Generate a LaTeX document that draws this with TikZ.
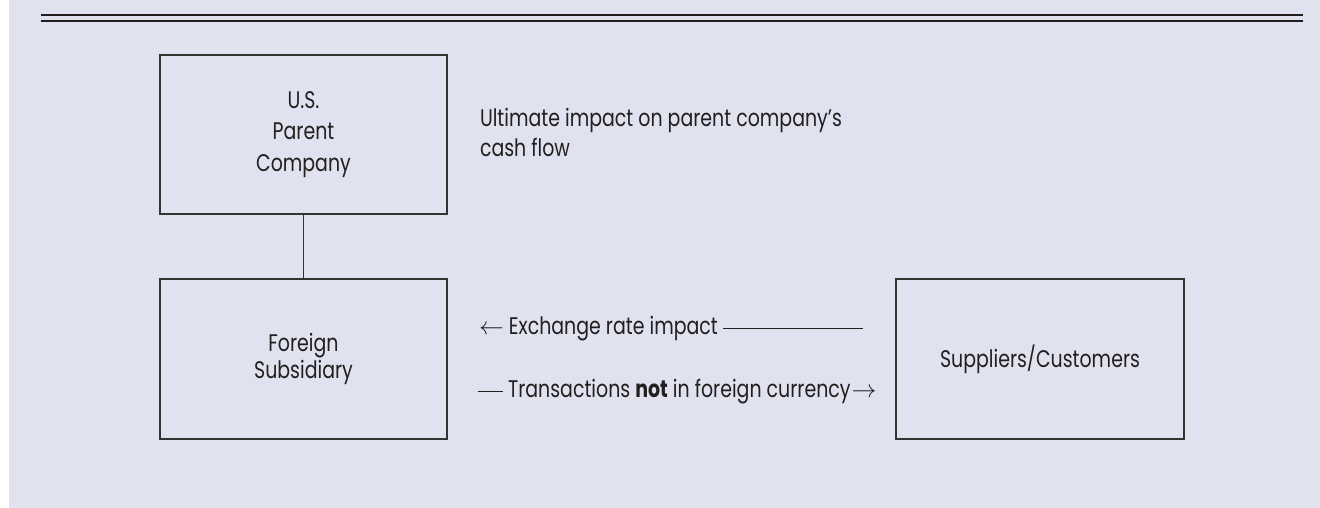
\documentclass[tikz,border=0pt]{standalone}
\usepackage{fontspec}
\setmainfont{Poppins}[FakeStretch=0.79]
\definecolor{panel}{HTML}{E0E2EF}
\definecolor{ink}{HTML}{231F20}
\definecolor{edge}{HTML}{333333}
\newcommand{\dashrule}[1]{\rule[5.5pt]{#1}{1pt}}
\begin{document}
\begin{tikzpicture}[x=1pt,y=-1pt,
  every node/.style={font=\fontsize{24}{30}\selectfont, text=ink, inner sep=0pt, outer sep=0pt},
  entity/.style={draw=edge, line width=1.3pt, align=center},
  link/.style={draw=edge, line width=1.3pt},
  headrule/.style={draw=ink, line width=2pt}]
  % page and shaded panel
  \useasboundingbox (0,0) rectangle (1320,508);
  \fill[white] (0,0) rectangle (1320,508);
  \fill[panel] (9,0) rectangle (1320,508);
  % double rule under the heading
  \draw[headrule] (41,15) -- (1303,15);
  \draw[headrule] (41,21) -- (1303,21);

  % entities
  \node[entity, minimum width=287pt, minimum height=159pt,
        font=\fontsize{24}{31.6}\selectfont] (parent) at (303.5,134.5)
        {U.S.\\Parent\\Company};
  \node[entity, minimum width=287pt, minimum height=160pt,
        font=\fontsize{24}{26.7}\selectfont] (foreign) at (303.5,359)
        {Foreign\\Subsidiary};
  \node[entity, minimum width=288pt, minimum height=160pt] (partners) at (1040,359)
        {Suppliers/Customers};

  % ownership link
  \draw[link] (parent.south) -- (foreign.north);

  % annotations
  \node[anchor=base west] (impact1) at (480,126.7) {Ultimate impact on parent company’s};
  \node[anchor=base west] (impact2) at (480,157) {cash flow};
  \node[anchor=base west] (exch) at (479,334)
        {$\leftarrow$ Exchange rate impact \dashrule{140pt}};
  \node[anchor=base west] (trans) at (478,397)
        {\dashrule{25pt} Transactions \textbf{not} in foreign currency\kern1pt$\rightarrow$};
\end{tikzpicture}
\end{document}
